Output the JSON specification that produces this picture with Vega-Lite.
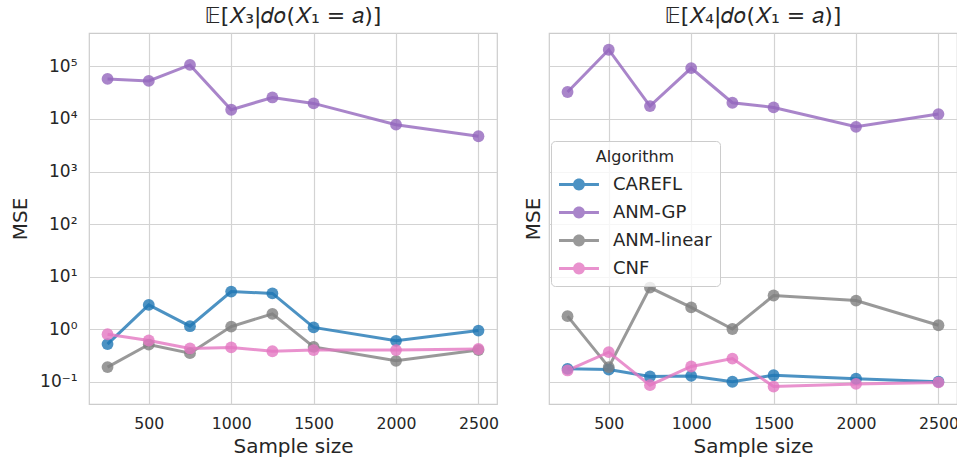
{
  "$schema": "https://vega.github.io/schema/vega-lite/v6.json",
  "padding": {"left": 9, "top": 4, "right": 0, "bottom": 2},
  "background": "white",
  "config": {
    "font": "DejaVu Sans",
    "view": {"stroke": "#cccccc", "strokeWidth": 1.2},
    "axis": {
      "gridColor": "#d3d3d3", "gridWidth": 1.2, "ticks": false, "domain": false,
      "labelColor": "#262626", "titleColor": "#262626", "labelFontSize": 15.7,
      "titleFontSize": 20, "titleFontWeight": "normal", "labelPadding": 12
    },
    "title": {"fontSize": 22, "fontWeight": "normal", "color": "#262626", "offset": 5}
  },
  "data": {"values": [
    {"panel":"X3","alg":"CAREFL","n":250,"mse":0.52},
    {"panel":"X3","alg":"CAREFL","n":500,"mse":2.9},
    {"panel":"X3","alg":"CAREFL","n":750,"mse":1.14},
    {"panel":"X3","alg":"CAREFL","n":1000,"mse":5.2},
    {"panel":"X3","alg":"CAREFL","n":1250,"mse":4.8},
    {"panel":"X3","alg":"CAREFL","n":1500,"mse":1.08},
    {"panel":"X3","alg":"CAREFL","n":2000,"mse":0.6},
    {"panel":"X3","alg":"CAREFL","n":2500,"mse":0.94},
    {"panel":"X3","alg":"ANM-GP","n":250,"mse":58000},
    {"panel":"X3","alg":"ANM-GP","n":500,"mse":53000},
    {"panel":"X3","alg":"ANM-GP","n":750,"mse":107000},
    {"panel":"X3","alg":"ANM-GP","n":1000,"mse":15000},
    {"panel":"X3","alg":"ANM-GP","n":1250,"mse":25700},
    {"panel":"X3","alg":"ANM-GP","n":1500,"mse":19800},
    {"panel":"X3","alg":"ANM-GP","n":2000,"mse":7800},
    {"panel":"X3","alg":"ANM-GP","n":2500,"mse":4700},
    {"panel":"X3","alg":"ANM-linear","n":250,"mse":0.19},
    {"panel":"X3","alg":"ANM-linear","n":500,"mse":0.51},
    {"panel":"X3","alg":"ANM-linear","n":750,"mse":0.35},
    {"panel":"X3","alg":"ANM-linear","n":1000,"mse":1.12},
    {"panel":"X3","alg":"ANM-linear","n":1250,"mse":1.96},
    {"panel":"X3","alg":"ANM-linear","n":1500,"mse":0.46},
    {"panel":"X3","alg":"ANM-linear","n":2000,"mse":0.25},
    {"panel":"X3","alg":"ANM-linear","n":2500,"mse":0.4},
    {"panel":"X3","alg":"CNF","n":250,"mse":0.8},
    {"panel":"X3","alg":"CNF","n":500,"mse":0.61},
    {"panel":"X3","alg":"CNF","n":750,"mse":0.43},
    {"panel":"X3","alg":"CNF","n":1000,"mse":0.45},
    {"panel":"X3","alg":"CNF","n":1250,"mse":0.38},
    {"panel":"X3","alg":"CNF","n":1500,"mse":0.4},
    {"panel":"X3","alg":"CNF","n":2000,"mse":0.4},
    {"panel":"X3","alg":"CNF","n":2500,"mse":0.42},
    {"panel":"X4","alg":"CAREFL","n":250,"mse":0.176},
    {"panel":"X4","alg":"CAREFL","n":500,"mse":0.171},
    {"panel":"X4","alg":"CAREFL","n":750,"mse":0.126},
    {"panel":"X4","alg":"CAREFL","n":1000,"mse":0.129},
    {"panel":"X4","alg":"CAREFL","n":1250,"mse":0.1},
    {"panel":"X4","alg":"CAREFL","n":1500,"mse":0.133},
    {"panel":"X4","alg":"CAREFL","n":2000,"mse":0.114},
    {"panel":"X4","alg":"CAREFL","n":2500,"mse":0.1},
    {"panel":"X4","alg":"ANM-GP","n":250,"mse":32600},
    {"panel":"X4","alg":"ANM-GP","n":500,"mse":208000},
    {"panel":"X4","alg":"ANM-GP","n":750,"mse":17600},
    {"panel":"X4","alg":"ANM-GP","n":1000,"mse":93000},
    {"panel":"X4","alg":"ANM-GP","n":1250,"mse":20400},
    {"panel":"X4","alg":"ANM-GP","n":1500,"mse":16600},
    {"panel":"X4","alg":"ANM-GP","n":2000,"mse":7100},
    {"panel":"X4","alg":"ANM-GP","n":2500,"mse":12400},
    {"panel":"X4","alg":"ANM-linear","n":250,"mse":1.77},
    {"panel":"X4","alg":"ANM-linear","n":500,"mse":0.19},
    {"panel":"X4","alg":"ANM-linear","n":750,"mse":6.2},
    {"panel":"X4","alg":"ANM-linear","n":1000,"mse":2.6},
    {"panel":"X4","alg":"ANM-linear","n":1250,"mse":1.01},
    {"panel":"X4","alg":"ANM-linear","n":1500,"mse":4.37},
    {"panel":"X4","alg":"ANM-linear","n":2000,"mse":3.5},
    {"panel":"X4","alg":"ANM-linear","n":2500,"mse":1.19},
    {"panel":"X4","alg":"CNF","n":250,"mse":0.164},
    {"panel":"X4","alg":"CNF","n":500,"mse":0.365},
    {"panel":"X4","alg":"CNF","n":750,"mse":0.086},
    {"panel":"X4","alg":"CNF","n":1000,"mse":0.195},
    {"panel":"X4","alg":"CNF","n":1250,"mse":0.276},
    {"panel":"X4","alg":"CNF","n":1500,"mse":0.081},
    {"panel":"X4","alg":"CNF","n":2000,"mse":0.091},
    {"panel":"X4","alg":"CNF","n":2500,"mse":0.097}
  ]},
  "spacing": 22,
  "hconcat": [
    {
      "width": 408, "height": 371,
      "title": "𝔼[𝑋₃|𝑑𝑜(𝑋₁ = 𝑎)]",
      "transform": [{"filter": "datum.panel === 'X3'"}],
      "encoding": {
        "x": {"field": "n", "type": "quantitative",
              "scale": {"domain": [137.5, 2612.5], "nice": false, "zero": false},
              "axis": {"values": [500, 1000, 1500, 2000, 2500], "title": "Sample size", "format": "d", "titlePadding": 6}},
        "y": {"field": "mse", "type": "quantitative",
              "scale": {"type": "log", "domain": [0.0377, 433000], "nice": false},
              "axis": {"values": [0.1, 1, 10, 100, 1000, 10000, 100000], "title": "MSE", "titlePadding": 9, "labelFontSize": 17,
                       "labelExpr": "['10⁻¹','10⁰','10¹','10²','10³','10⁴','10⁵'][round(log(datum.value)/LN10)+1]"}},
        "color": {"field": "alg", "type": "nominal",
                  "scale": {"domain": ["CAREFL", "ANM-GP", "ANM-linear", "CNF"], "range": ["#1f77b4", "#9467bd", "#7f7f7f", "#e377c2"]},
                  "legend": {"orient": "none", "legendX": 462, "legendY": 108, "title": "Algorithm",
                             "fillColor": "rgba(255,255,255,0.8)", "strokeColor": "#cccccc", "cornerRadius": 4, "padding": 8,
                             "titleFontSize": 16, "titleFontWeight": "normal", "titleAnchor": "middle", "titleColor": "#262626", "titlePadding": 6,
                             "labelFontSize": 18, "labelColor": "#262626", "rowPadding": 5, "labelOffset": 27,
                             "symbolType": "M-1,-0.11 L1.96,-0.11 L1.96,0.11 L-1,0.11 Z M0.04,0 A0.44,0.44 0 1,1 0.92,0 A0.44,0.44 0 1,1 0.04,0 Z",
                             "symbolSize": 729, "symbolStrokeWidth": 0, "symbolOpacity": 0.8}}
      },
      "layer": [
        {"mark": {"type": "line", "strokeWidth": 3, "opacity": 0.8}},
        {"mark": {"type": "point", "filled": true, "size": 140, "opacity": 0.8}}
      ]
    },
    {
      "width": 408, "height": 371,
      "title": "𝔼[𝑋₄|𝑑𝑜(𝑋₁ = 𝑎)]",
      "transform": [{"filter": "datum.panel === 'X4'"}],
      "encoding": {
        "x": {"field": "n", "type": "quantitative",
              "scale": {"domain": [137.5, 2612.5], "nice": false, "zero": false},
              "axis": {"values": [500, 1000, 1500, 2000, 2500], "title": "Sample size", "format": "d", "titlePadding": 6}},
        "y": {"field": "mse", "type": "quantitative",
              "scale": {"type": "log", "domain": [0.0377, 433000], "nice": false},
              "axis": {"values": [0.1, 1, 10, 100, 1000, 10000, 100000], "title": "MSE", "labels": false, "titlePadding": 6}},
        "color": {"field": "alg", "type": "nominal",
                  "scale": {"domain": ["CAREFL", "ANM-GP", "ANM-linear", "CNF"], "range": ["#1f77b4", "#9467bd", "#7f7f7f", "#e377c2"]}}
      },
      "layer": [
        {"mark": {"type": "line", "strokeWidth": 3, "opacity": 0.8}},
        {"mark": {"type": "point", "filled": true, "size": 140, "opacity": 0.8}}
      ]
    }
  ]
}
